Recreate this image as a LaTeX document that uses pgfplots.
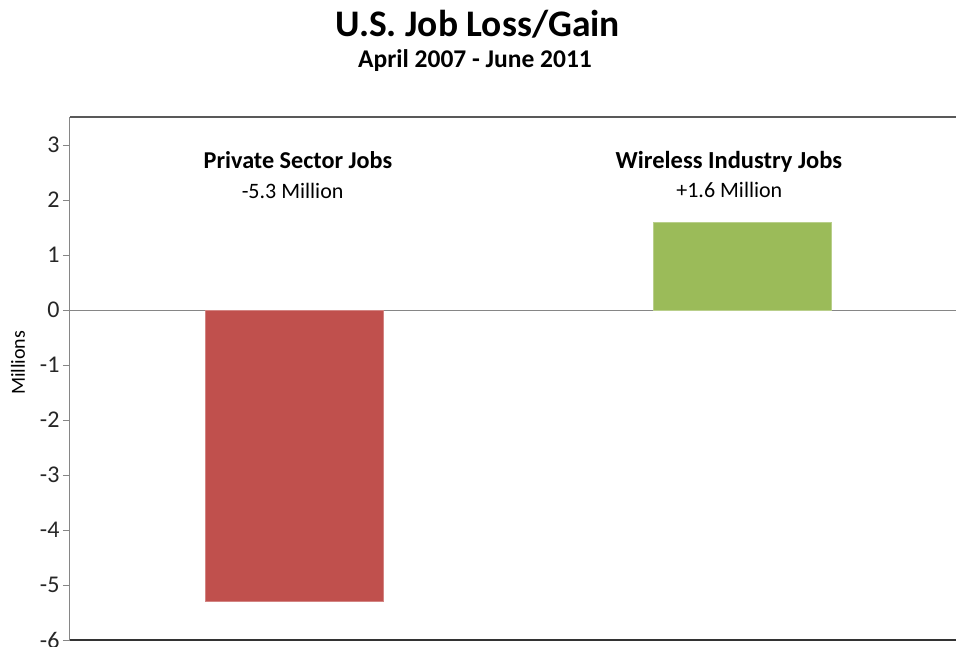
\documentclass[border=0pt]{standalone}
\usepackage{fontspec}
\setmainfont{Carlito}
\usepackage{pgfplots}
\pgfplotsset{compat=1.18}
\definecolor{barred}{HTML}{C0504D}
\definecolor{bargreen}{HTML}{9BBB59}
\definecolor{axgray}{HTML}{868686}
\definecolor{axdark}{HTML}{595959}
\begin{document}
\begin{tikzpicture}[x=1pt,y=1pt]
\useasboundingbox (0,0) rectangle (956,647);
\node[font=\bfseries\fontsize{37.5}{42}\selectfont,anchor=base] at (477.5,610) {U.S. Job Loss/Gain};
\node[font=\bfseries\fontsize{25.5}{30}\selectfont,anchor=base] at (475,579) {April 2007 - June 2011};
\begin{axis}[
  at={(70pt,7pt)}, anchor=south west,
  scale only axis, width=886pt, height=523pt,
  xmin=-0.5, xmax=1.478, ymin=-6, ymax=3.51,
  axis x line*=bottom, axis y line*=left,
  x axis line style={draw=black!80, line width=1.2pt, -},
  y axis line style={draw=axgray, line width=1pt, -},
  xtick=\empty,
  ytick={-6,-5,-4,-3,-2,-1,0,1,2,3},
  tick align=outside, major tick length=7pt,
  ytick style={draw=axgray, line width=0.8pt},
  yticklabel style={font=\fontsize{24}{28}\selectfont, text=black!85, xshift=0pt},
  /pgf/number format/assume math mode=true,
  yticklabel={\pgfmathprintnumber[assume math mode=true]{\tick}},
  ylabel={Millions}, ylabel style={font=\fontsize{20}{24}\selectfont, at={(ticklabel cs:0.53)}},
  ylabel shift=8pt,
  clip=false,
  ybar, bar width=0.397,
]
\draw[axgray, line width=1pt] (axis cs:-0.5,0) -- (axis cs:1.478,0);
\draw[axdark, line width=1.2pt] (rel axis cs:0,1) -- (rel axis cs:1,1);
\addplot[fill=barred, draw=barred!70!white, line width=0.6pt, bar shift=0pt] coordinates {(0,-5.3)};
\addplot[fill=bargreen, draw=bargreen!70!white, line width=0.6pt, bar shift=0pt] coordinates {(1,1.6)};
\node[font=\bfseries\fontsize{24.2}{28}\selectfont, anchor=base] at (axis cs:0.009,2.58) {Private Sector Jobs};
\node[font=\fontsize{22}{26}\selectfont, anchor=base] at (axis cs:-0.003,2.02) {-5.3 Million};
\node[font=\bfseries\fontsize{24.5}{28}\selectfont, anchor=base] at (axis cs:0.971,2.58) {Wireless Industry Jobs};
\node[font=\fontsize{22}{26}\selectfont, anchor=base] at (axis cs:0.972,2.05) {+1.6 Million};
\end{axis}
\end{tikzpicture}
\end{document}
